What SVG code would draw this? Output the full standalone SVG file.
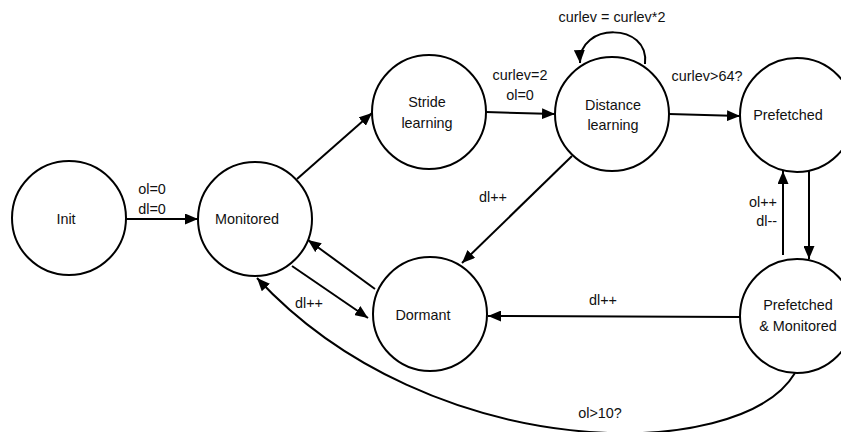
<svg xmlns="http://www.w3.org/2000/svg" width="841" height="432" viewBox="0 0 841 432">
  <style>
    .state { fill: #fff; stroke: #000; stroke-width: 2; }
    .lbl { font-family: "Liberation Sans", Arial, sans-serif; font-size: 14.4px; fill: #111; text-anchor: middle; }
    .edge { fill: none; stroke: #000; stroke-width: 2; marker-end: url(#arrow); }
  </style>
  <defs>
    <marker id="arrow" markerUnits="userSpaceOnUse" markerWidth="13" markerHeight="11" refX="13" refY="5.5" orient="auto">
      <path d="M0,0 L13,5.5 L0,11 z" fill="#000"/>
    </marker>
  </defs>
  <rect width="841" height="432" fill="#fff"/>

  <!-- transitions -->
  <g id="connectors">
    <path class="edge" d="M126,219 L198,219"/>
    <path class="edge" d="M297,179 L372,113"/>
    <path class="edge" d="M486,112 L555,114"/>
    <path class="edge" d="M645,64 C650,22 578,22 580,63"/>
    <path class="edge" d="M669,114 L740,116"/>
    <path class="edge" d="M572,156 L462,263"/>
    <path class="edge" d="M375,289 L308,240"/>
    <path class="edge" d="M292,266 L368,318"/>
    <path class="edge" d="M740,317 L488,316"/>
    <path class="edge" d="M809,171 L809,259"/>
    <path class="edge" d="M783,255 L783,171"/>
    <path class="edge" d="M795,373 C740,465 430,465 257,278"/>

    <text class="lbl" x="152" y="194">ol=0</text>
    <text class="lbl" x="152" y="214">dl=0</text>
    <text class="lbl" x="520" y="80">curlev=2</text>
    <text class="lbl" x="520" y="100">ol=0</text>
    <text class="lbl" x="612" y="22">curlev = curlev*2</text>
    <text class="lbl" x="707" y="81">curlev&gt;64?</text>
    <text class="lbl" x="493" y="202">dl++</text>
    <text class="lbl" x="309" y="308">dl++</text>
    <text class="lbl" x="603" y="305">dl++</text>
    <text class="lbl" x="777" y="207" style="text-anchor:end">ol++</text>
    <text class="lbl" x="777" y="226" style="text-anchor:end">dl--</text>
    <text class="lbl" x="600" y="418">ol&gt;10?</text>
  </g>

  <g id="init">
    <circle class="state" cx="69" cy="218" r="57"/>
    <text class="lbl" x="66" y="224">Init</text>
  </g>
  <g id="monitored">
    <circle class="state" cx="255" cy="219" r="57"/>
    <text class="lbl" x="247" y="224">Monitored</text>
  </g>
  <g id="stride-learning">
    <circle class="state" cx="429" cy="112" r="57"/>
    <text class="lbl" x="427" y="107">Stride</text>
    <text class="lbl" x="427" y="128">learning</text>
  </g>
  <g id="distance-learning">
    <circle class="state" cx="612" cy="114" r="57"/>
    <text class="lbl" x="613" y="110">Distance</text>
    <text class="lbl" x="613" y="130">learning</text>
  </g>
  <g id="prefetched">
    <circle class="state" cx="797" cy="115" r="57"/>
    <text class="lbl" x="788" y="120">Prefetched</text>
  </g>
  <g id="dormant">
    <circle class="state" cx="430" cy="314" r="57"/>
    <text class="lbl" x="423" y="320">Dormant</text>
  </g>
  <g id="prefetched-monitored">
    <circle class="state" cx="797" cy="316" r="57"/>
    <text class="lbl" x="798" y="310">Prefetched</text>
    <text class="lbl" x="798" y="331">&amp; Monitored</text>
  </g>
</svg>
